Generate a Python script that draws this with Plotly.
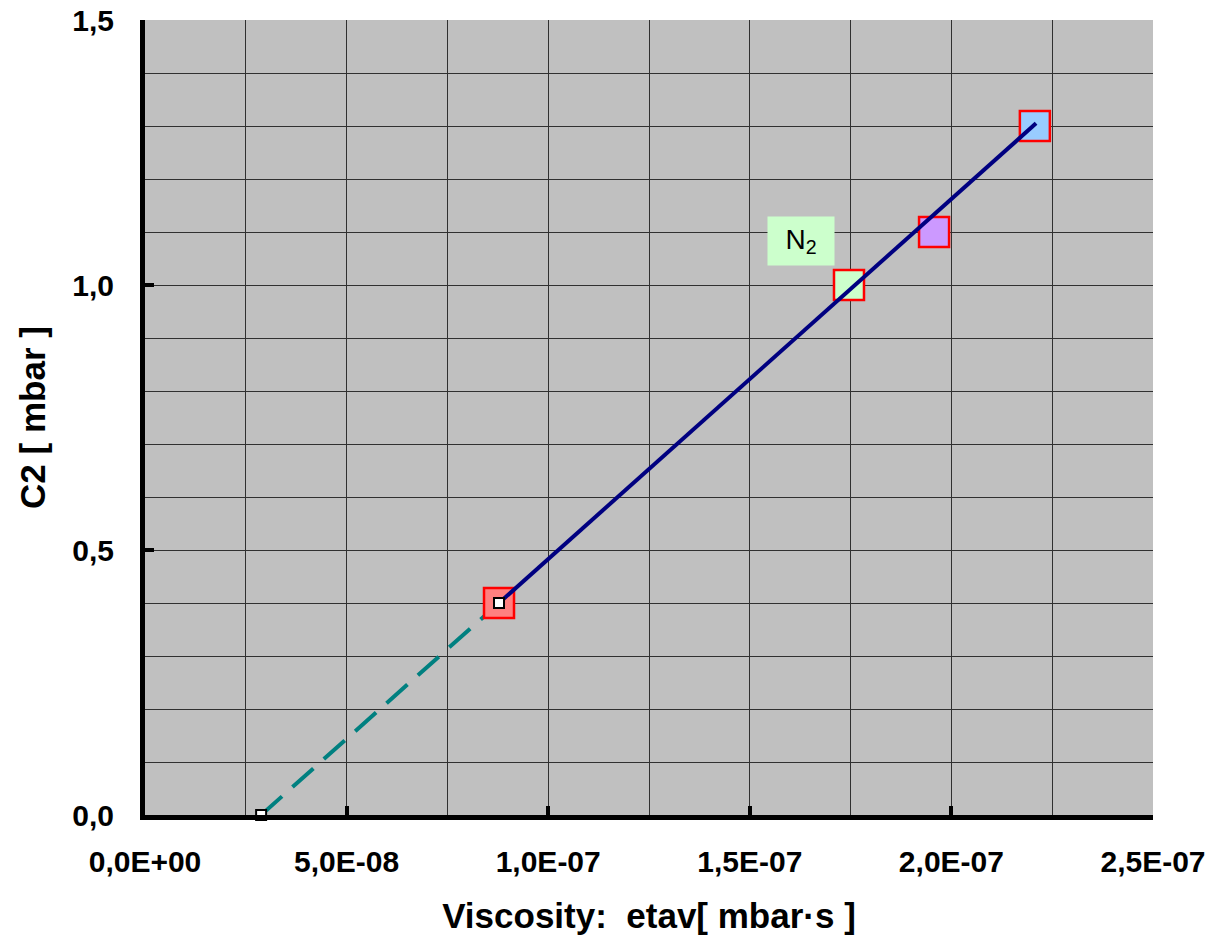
import plotly.graph_objects as go

# Measured points: viscosity (mbar·s) vs. C2 (mbar)
gas_eta = [8.78e-8, 1.746e-7, 1.957e-7, 2.207e-7]
gas_c2 = [0.40, 1.00, 1.10, 1.30]
gas_fill = ["#ff8080", "#ccffcc", "#cc99ff", "#99ccff"]

# Fitted line and its extrapolation to C2 = 0
fit_eta = [8.78e-8, 2.21e-7]
fit_c2 = [0.40, 1.305]
extrap_eta = [2.88e-8, 8.78e-8]
extrap_c2 = [0.0, 0.40]

# Tick labels
x_ticks = [0, 5e-8, 1e-7, 1.5e-7, 2e-7, 2.5e-7]
x_labels = ["0,0E+00", "5,0E-08", "1,0E-07", "1,5E-07", "2,0E-07", "2,5E-07"]
y_ticks = [0, 0.5, 1.0, 1.5]
y_labels = ["0,0", "0,5", "1,0", "1,5"]

fig = go.Figure()

fig.add_trace(go.Scatter(
    x=extrap_eta, y=extrap_c2, mode="lines",
    line=dict(color="#008080", width=4, dash="28px,14px"),
    hoverinfo="skip", cliponaxis=False,
))
fig.add_trace(go.Scatter(
    x=gas_eta, y=gas_c2, mode="markers",
    marker=dict(symbol="square", size=30, color=gas_fill,
                line=dict(color="#ff0000", width=2.5)),
    cliponaxis=False,
))
fig.add_trace(go.Scatter(
    x=fit_eta, y=fit_c2, mode="lines",
    line=dict(color="#000080", width=4),
    cliponaxis=False,
))
fig.add_trace(go.Scatter(
    x=[extrap_eta[0], fit_eta[0]], y=[extrap_c2[0], fit_c2[0]], mode="markers",
    marker=dict(symbol="square", size=10, color="white",
                line=dict(color="black", width=2)),
    cliponaxis=False,
))

font_fam = "Liberation Sans, Arial"

fig.add_annotation(
    x=1.627e-7, y=1.083, text="N<sub>2</sub>", showarrow=False,
    font=dict(family=font_fam, size=28, color="black"),
    bgcolor="#ccffcc", borderpad=0, width=66, height=48,
)

fig.update_layout(
    width=1209, height=938,
    margin=dict(l=145, r=56, t=20, b=123),
    paper_bgcolor="white", plot_bgcolor="#c0c0c0",
    showlegend=False,
    font=dict(family=font_fam, color="black"),
    xaxis=dict(
        range=[0, 2.5e-7], tickmode="array", tickvals=x_ticks, ticktext=x_labels,
        tickfont=dict(size=30, family=font_fam, weight="bold"),
        showline=True, linecolor="black", linewidth=5,
        ticks="inside", ticklen=9, tickwidth=4, tickcolor="black",
        showgrid=True, gridcolor="#303030", gridwidth=1,
        minor=dict(tickmode="linear", tick0=0, dtick=2.5e-8, showgrid=True,
                   gridcolor="#303030", gridwidth=1, ticks=""),
        zeroline=False, ticklabelstandoff=16, automargin=False,
        title=dict(text="Viscosity:  etav[ mbar·s ]", standoff=28,
                   font=dict(size=35, family=font_fam, weight="bold")),
    ),
    yaxis=dict(
        range=[0, 1.5], tickmode="array", tickvals=y_ticks, ticktext=y_labels,
        tickfont=dict(size=30, family=font_fam, weight="bold"),
        showline=True, linecolor="black", linewidth=5,
        ticks="inside", ticklen=9, tickwidth=4, tickcolor="black",
        showgrid=True, gridcolor="#303030", gridwidth=1,
        minor=dict(tickmode="linear", tick0=0, dtick=0.1, showgrid=True,
                   gridcolor="#303030", gridwidth=1, ticks=""),
        zeroline=False, ticklabelstandoff=20, automargin=False,
        title=dict(text="C2 [ mbar ]", standoff=18,
                   font=dict(size=35, family=font_fam, weight="bold")),
    ),
)

fig.write_html("out.html")
